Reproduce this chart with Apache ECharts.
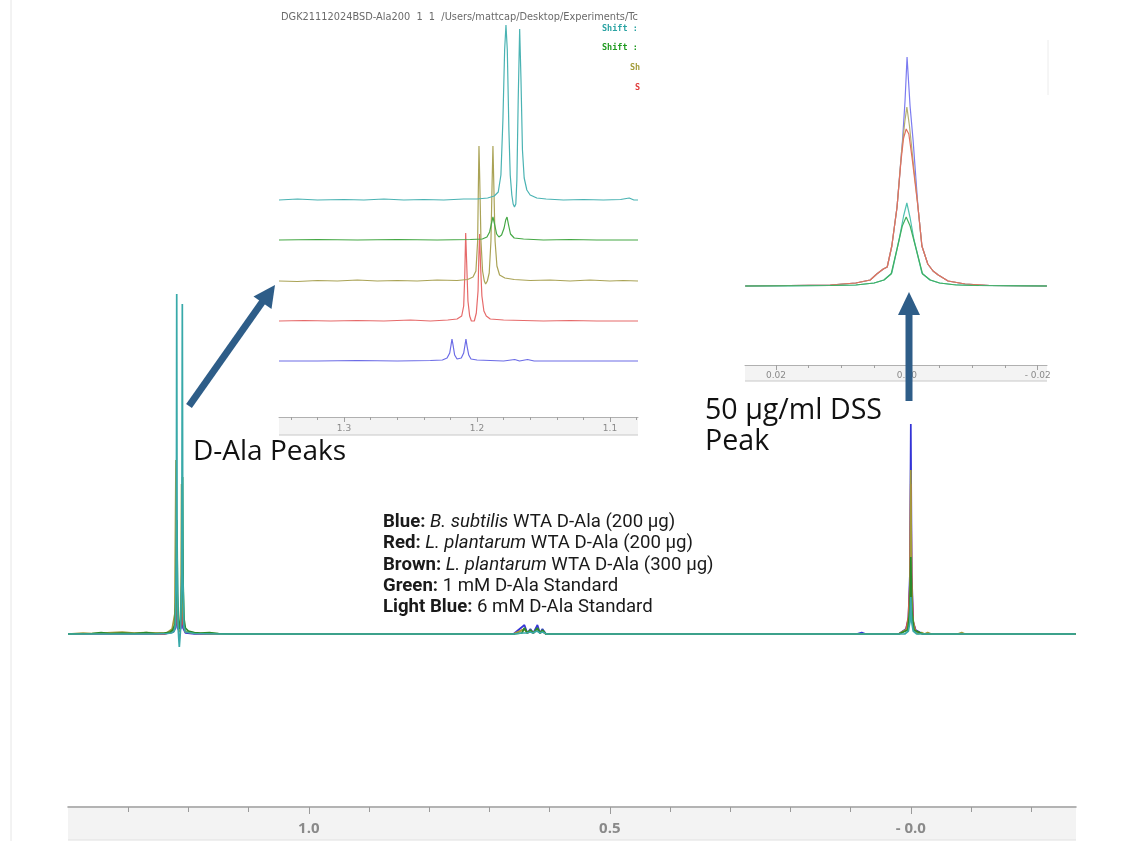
<!DOCTYPE html>
<html>
<head>
<meta charset="utf-8">
<script src="https://cdn.jsdelivr.net/npm/echarts@6/dist/echarts.min.js"></script>
<style>
html,body{margin:0;padding:0;background:#fff;}
#chart{width:1126px;height:841px;}
</style>
</head>
<body>
<div id="chart"></div>
<script>
// ---------------- DATA ----------------
// Main spectrum axis (ppm, reversed)
const mainTickValues = [1.0, 0.5, 0.0];
const mainTickLabels = ['1.0', '0.5', '- 0.0'];
const mainMinorTicks = [1.3, 1.2, 1.1, 1.0, 0.9, 0.8, 0.7, 0.6, 0.5, 0.4, 0.3, 0.2, 0.1, 0.0, -0.1, -0.2];

// D-Ala inset axis
const dalaTickValues = [1.3, 1.2, 1.1];
const dalaTickLabels = ['1.3', '1.2', '1.1'];
const dalaMinorTicks = [1.34, 1.32, 1.30, 1.28, 1.26, 1.24, 1.22, 1.20, 1.18, 1.16, 1.14, 1.12, 1.10, 1.08];

// DSS inset axis
const dssTickValues = [0.02, 0.0, -0.02];
const dssTickLabels = ['0.02', '0.00', '- 0.02'];
const dssMinorTicks = [0.02, 0.015, 0.01, 0.005, 0.0, -0.005, -0.01, -0.015, -0.02];

const seriesNames = ['Blue', 'Red', 'Brown', 'Green', 'Light Blue'];

// Legend text
const legendLabels = ['Blue:', 'Red:', 'Brown:', 'Green:', 'Light Blue:'];
const legendItalic = ['B. subtilis', 'L. plantarum', 'L. plantarum', '', ''];
const legendRest = ['WTA D-Ala (200 µg)', 'WTA D-Ala (200 µg)', 'WTA D-Ala (300 µg)', '1 mM D-Ala Standard', '6 mM D-Ala Standard'];

// Main spectrum, [ppm, intensity]
const mainBlue = [[1.400,0],[1.24,0],[1.225,2],[1.2215,6],[1.2194,25],[1.218,6],[1.2151,3],[1.2125,6],[1.2101,24],[1.209,6],[1.205,1],[1.19,0],
  [0.66,0],[0.6418,9],[0.637,1],[0.6319,5],[0.627,1],[0.6202,9],[0.616,1],[0.6119,5],[0.606,0],
  [0.09,0],[0.0816,1.5],[0.075,0],[0.02,0],[0.008,5],[0.004,15],[0.0015,60],[0.0,210],[-0.0015,60],[-0.004,12],[-0.008,4],[-0.02,0],[-0.274,0]];
const mainRed = [[1.400,0],[1.30,0.5],[1.24,0],[1.226,2],[1.2215,8],[1.2194,90],[1.218,10],[1.2151,2],[1.2125,8],[1.2101,85],[1.209,10],[1.205,2],[1.19,0.5],[1.15,0],
  [0.66,0],[0.6418,5],[0.637,1],[0.6319,3],[0.627,1],[0.6202,5],[0.616,1],[0.6119,3],[0.606,0],
  [0.02,0],[0.008,4],[0.004,17],[0.0015,50],[0.0,150],[-0.0015,50],[-0.004,12],[-0.008,3],[-0.02,0],[-0.274,0]];
const mainBrown = [[1.400,0],[1.375,1],[1.36,0.5],[1.31,2],[1.29,1],[1.27,1.5],[1.25,1],[1.236,1],[1.227,5],[1.2225,20],[1.2206,174],[1.2190,30],[1.2165,8],[1.2151,2],[1.2135,10],[1.2122,35],[1.2113,150],[1.2100,35],[1.2075,8],[1.205,3],[1.19,1],[1.17,0.5],[1.14,0],
  [0.66,0],[0.6418,5],[0.637,1],[0.6319,4],[0.627,1],[0.6202,5],[0.616,1],[0.6119,3],[0.606,0],
  [0.02,0],[0.006,5],[0.0025,20],[0.001,60],[0.0,164],[-0.001,60],[-0.0025,20],[-0.006,5],[-0.012,0],[-0.018,1.5],[-0.023,0],[-0.028,1.5],[-0.034,0],[-0.078,0],[-0.0845,1.5],[-0.09,0],[-0.274,0]];
const mainGreen = [[1.400,0],[1.36,0.5],[1.345,1.5],[1.33,0.5],[1.31,1],[1.29,0.5],[1.27,1.5],[1.255,0.5],[1.24,1],[1.23,2],[1.226,4],[1.2222,10],[1.2203,40],[1.2190,114],[1.2181,40],[1.2163,12],[1.2151,5],[1.2128,15],[1.2108,50],[1.2097,157],[1.2088,50],[1.2072,15],[1.205,6],[1.20,3],[1.19,1.5],[1.18,1],[1.165,1.5],[1.15,0.5],[1.13,0],
  [0.66,0],[0.646,1],[0.6418,6],[0.637,1],[0.6319,4],[0.627,1],[0.6202,6],[0.616,1],[0.6119,4],[0.606,0],
  [0.02,0],[0.005,4],[0.0015,25],[0.0,77],[-0.0015,25],[-0.005,4],[-0.02,0],[-0.274,0]];
const mainLightBlue = [[1.400,0],[1.26,0],[1.235,0.5],[1.228,1],[1.2235,3],[1.2215,10],[1.2200,80],[1.2194,340],[1.2188,80],[1.2170,5],[1.2151,-13],[1.2130,5],[1.2110,60],[1.2101,330],[1.2093,60],[1.2075,8],[1.205,2],[1.19,0.5],[1.15,0],
  [0.66,0],[0.645,1],[0.642,3],[0.638,1],[0.632,2],[0.628,1],[0.621,3],[0.616,1],[0.612,2],[0.605,0],
  [0.01,0],[0.004,3],[0.0015,12],[0.0,37],[-0.0015,12],[-0.004,3],[-0.01,0],[-0.274,0]];

// D-Ala inset (stacked traces), [ppm, intensity above own baseline]
const dalaLightBlue = [[1.3489,0],[1.335,1],[1.32,0],[1.30,0.5],[1.285,0],[1.27,1],[1.255,0],[1.24,0.5],[1.225,0],[1.21,1],[1.20,1],[1.192,2],[1.187,4],[1.184,8],[1.182,25],[1.1805,80],[1.1792,150],[1.1782,175],[1.1772,150],[1.176,70],[1.175,25],[1.1738,5],[1.1728,-4],[1.1718,-7],[1.1708,-4],[1.170,20],[1.169,100],[1.1679,171],[1.1669,120],[1.1658,50],[1.1645,22],[1.1625,10],[1.160,5],[1.155,2],[1.148,1],[1.135,0],[1.12,0.5],[1.105,0],[1.092,0.5],[1.0855,2],[1.082,0],[1.0789,0]];
const dalaGreen = [[1.3489,0],[1.32,0.5],[1.29,0],[1.26,0.5],[1.23,0],[1.205,0.5],[1.196,1],[1.1925,3],[1.1905,8],[1.1892,16],[1.188,23],[1.1868,16],[1.1852,6],[1.1835,3],[1.1815,5],[1.1796,12],[1.1784,20],[1.1774,23],[1.1764,16],[1.1748,6],[1.172,2],[1.165,1],[1.15,0],[1.13,0.5],[1.11,0],[1.0789,0]];
const dalaBrown = [[1.3489,0],[1.335,-0.5],[1.32,0.5],[1.305,0],[1.29,1],[1.275,0],[1.26,0.5],[1.245,0],[1.23,1],[1.215,0.5],[1.207,1.5],[1.203,4],[1.2008,10],[1.1995,40],[1.199,90],[1.1985,135],[1.1979,100],[1.197,40],[1.1958,10],[1.1945,0],[1.1935,-3],[1.1922,0],[1.1908,8],[1.1895,40],[1.1886,100],[1.188,135],[1.1874,100],[1.1864,40],[1.185,15],[1.183,6],[1.179,3],[1.172,1.5],[1.16,0.5],[1.145,1],[1.13,0],[1.115,1],[1.10,0],[1.09,0.5],[1.0789,0]];
const dalaRed = [[1.3489,0],[1.33,0.5],[1.31,0],[1.29,0.5],[1.27,0],[1.25,1],[1.235,0],[1.222,1],[1.215,2],[1.2115,5],[1.21,15],[1.2092,45],[1.2085,88],[1.2078,60],[1.2068,20],[1.2055,5],[1.2042,0],[1.2032,-2],[1.202,0],[1.2005,8],[1.1992,30],[1.1986,65],[1.198,87],[1.1973,55],[1.1963,25],[1.1948,10],[1.193,5],[1.19,2],[1.18,1],[1.165,0.5],[1.15,0],[1.13,0.5],[1.11,0],[1.0789,0]];
const dalaBlue = [[1.3489,0],[1.32,0],[1.29,0.5],[1.26,0],[1.235,0.5],[1.226,1],[1.2225,3],[1.2205,8],[1.2195,16],[1.2188,22],[1.218,16],[1.2168,6],[1.215,2],[1.2135,1],[1.2118,3],[1.21,8],[1.209,16],[1.2083,22],[1.2075,15],[1.2062,6],[1.2045,2],[1.20,1],[1.19,0.5],[1.18,0],[1.1716,1.5],[1.168,0],[1.162,1.5],[1.157,0],[1.13,0],[1.0789,0]];

// DSS inset (overlaid traces), [ppm, intensity]
const dssBlue = [[0.0247,0],[0.0179,0.5],[0.0117,1],[0.0078,3],[0.0056,6],[0.0046,12],[0.0036,17],[0.0030,19],[0.0023,40],[0.0015,79],[0.00066,146],[0.00028,185],[-0.00003,229],[-0.00049,180],[-0.00095,146],[-0.0017,79],[-0.0023,40],[-0.0032,22],[-0.0040,15],[-0.0048,11],[-0.0063,5],[-0.0089,2],[-0.0127,0.5],[-0.0214,0]];
const dssRed = [[0.0247,0],[0.0179,0.5],[0.0117,1],[0.0078,3],[0.0056,6],[0.0046,12],[0.0036,17],[0.0030,19],[0.0023,40],[0.0015,79],[0.0009,125],[0.0005,148],[0.0001,157],[-0.0003,152],[-0.0008,128],[-0.0017,79],[-0.0023,40],[-0.0032,22],[-0.0040,15],[-0.0048,11],[-0.0063,5],[-0.0089,2],[-0.0127,0.5],[-0.0214,0]];
const dssBrown = [[0.0247,0],[0.0179,0.5],[0.0117,1],[0.0078,3],[0.0056,6],[0.0046,12],[0.0036,17],[0.0030,19],[0.0023,40],[0.0015,79],[0.0008,135],[0.0003,165],[0.0,179],[-0.0004,160],[-0.00095,125],[-0.0017,79],[-0.0023,40],[-0.0032,22],[-0.0040,15],[-0.0048,11],[-0.0063,5],[-0.0089,2],[-0.0127,0.5],[-0.0214,0]];
const dssGreen = [[0.0247,0],[0.0117,0.5],[0.0078,1],[0.0050,3],[0.0035,6],[0.0024,12],[0.0014,40],[0.0007,60],[0.0001,69],[-0.0005,60],[-0.0013,40],[-0.0024,12],[-0.0036,6],[-0.0050,3],[-0.0075,1],[-0.011,0.5],[-0.0214,0]];
const dssLightBlue = [[0.0247,0],[0.0179,0],[0.0117,0.5],[0.0078,1],[0.0050,3],[0.0035,6],[0.0023,13],[0.0012,46],[0.0005,70],[0.0,83],[-0.0005,68],[-0.0011,46],[-0.0023,13],[-0.0035,6],[-0.0050,3],[-0.0070,1.5],[-0.0100,0.5],[-0.0214,0]];

// ---------------- STYLE / LAYOUT ----------------
const mainColors  = ['#3434d6', '#d84848', '#a29a3c', '#2a8a2a', '#38a9a9'];
const dalaColors  = ['#6c6ce6', '#e66a6a', '#aaa356', '#45a845', '#4ab3b3'];
const dssColors   = ['#7b7bf0', '#e07060', '#b5b070', '#40b060', '#50c0b0'];

const chart = echarts.init(document.getElementById('chart'), null, {renderer: 'canvas'});

function labelFor(vals, labels) {
  return function (v) {
    for (let i = 0; i < vals.length; i++) if (Math.abs(v - vals[i]) < 1e-9) return labels[i];
    return '';
  };
}

const grids = [
  {left: 68, top: 100, width: 1008, height: 707},   // 0 main
  {left: 279, top: 0, width: 359, height: 417},     // 1 D-Ala inset axis
  {left: 279, top: 0, width: 359, height: 200},     // 2 light blue trace
  {left: 279, top: 40, width: 359, height: 200},    // 3 green trace
  {left: 279, top: 81, width: 359, height: 200},    // 4 brown trace
  {left: 279, top: 121, width: 359, height: 200},   // 5 red trace
  {left: 279, top: 161, width: 359, height: 200},   // 6 blue trace
  {left: 745, top: 40, width: 302, height: 325},    // 7 DSS inset axis
  {left: 745, top: 46, width: 302, height: 240}     // 8 DSS traces
];

const MAIN_RANGE = [-0.2744, 1.400];
const DALA_RANGE = [1.0789, 1.3489];
const DSS_RANGE = [-0.02142, 0.02474];

function hiddenX(gi, range) {
  return {gridIndex: gi, type: 'value', position: 'bottom', inverse: true, min: range[0], max: range[1], show: false};
}
function axisPair(gi, range, minor, major, labels, o) {
  return [
    {gridIndex: gi, type: 'value', position: 'bottom', inverse: true, min: range[0], max: range[1], z: 5,
     axisLine: {show: true, onZero: false, lineStyle: {color: o.lineColor, width: o.lineWidth}},
     axisTick: {show: true, customValues: minor, length: o.minorLen, lineStyle: {color: o.tickColor, width: 1}},
     axisLabel: {show: false}, splitLine: {show: false}},
    {gridIndex: gi, type: 'value', position: 'bottom', offset: 0, inverse: true, min: range[0], max: range[1], z: 5,
     axisLine: {show: false, onZero: false},
     axisTick: {show: true, customValues: major, length: o.majorLen, lineStyle: {color: o.tickColor, width: 1}},
     axisLabel: {show: true, customValues: major, formatter: labelFor(major, labels), color: o.labelColor,
       fontSize: o.fontSize, fontWeight: o.fontWeight, fontFamily: o.fontFamily, margin: o.margin},
     splitLine: {show: false}}
  ];
}

const xAxes = [];
// main: indexes 0,1
xAxes.push(...axisPair(0, MAIN_RANGE, mainMinorTicks, mainTickValues, mainTickLabels,
  {lineColor: '#9a9a9a', lineWidth: 1.5, tickColor: '#9a9a9a', minorLen: 5, majorLen: 7, labelColor: '#8a8a8a',
   fontSize: 15, fontWeight: 'bold', fontFamily: 'Open Sans', margin: 14}));
// D-Ala inset axis: 2,3
xAxes.push(...axisPair(1, DALA_RANGE, dalaMinorTicks, dalaTickValues, dalaTickLabels,
  {lineColor: '#b0b0b0', lineWidth: 1, tickColor: '#a0a0a0', minorLen: 3, majorLen: 5, labelColor: '#8a8a8a',
   fontSize: 9, fontWeight: 'normal', fontFamily: 'DejaVu Sans', margin: 7}));
// D-Ala traces: 4..8
for (let g = 2; g <= 6; g++) xAxes.push(hiddenX(g, DALA_RANGE));
// DSS inset axis: 9,10
xAxes.push(...axisPair(7, DSS_RANGE, dssMinorTicks, dssTickValues, dssTickLabels,
  {lineColor: '#b0b0b0', lineWidth: 1, tickColor: '#a0a0a0', minorLen: 3, majorLen: 5, labelColor: '#8a8a8a',
   fontSize: 9, fontWeight: 'normal', fontFamily: 'DejaVu Sans', margin: 6}));
// DSS traces: 11
xAxes.push(hiddenX(8, DSS_RANGE));

const yAxes = [
  {gridIndex: 0, type: 'value', min: -173, max: 534, show: false},
  {gridIndex: 1, type: 'value', min: 0, max: 100, show: false},
  {gridIndex: 2, type: 'value', min: 0, max: 200, show: false},
  {gridIndex: 3, type: 'value', min: 0, max: 200, show: false},
  {gridIndex: 4, type: 'value', min: 0, max: 200, show: false},
  {gridIndex: 5, type: 'value', min: 0, max: 200, show: false},
  {gridIndex: 6, type: 'value', min: 0, max: 200, show: false},
  {gridIndex: 7, type: 'value', min: 0, max: 100, show: false},
  {gridIndex: 8, type: 'value', min: 0, max: 240, show: false}
];

const mainData = [mainBlue, mainRed, mainBrown, mainGreen, mainLightBlue];
const dalaData = [dalaBlue, dalaRed, dalaBrown, dalaGreen, dalaLightBlue];
const dssData = [dssBlue, dssRed, dssBrown, dssGreen, dssLightBlue];
// stacked-trace grid per D-Ala series: blue->6, red->5, brown->4, green->3, light blue->2
const dalaGridOf = [6, 5, 4, 3, 2];
const dalaXAxisOf = [8, 7, 6, 5, 4];

const series = [];
mainData.forEach((d, i) => series.push({
  name: seriesNames[i], type: 'line', xAxisIndex: 0, yAxisIndex: 0, data: d, showSymbol: false,
  lineStyle: {color: mainColors[i], width: 1.7}, clip: false, silent: true
}));
dalaData.forEach((d, i) => series.push({
  name: seriesNames[i], type: 'line', xAxisIndex: dalaXAxisOf[i], yAxisIndex: dalaGridOf[i], data: d, showSymbol: false,
  lineStyle: {color: dalaColors[i], width: 1.2}, clip: false, silent: true
}));
const dssOrder = [0, 2, 1, 4, 3];
dssOrder.forEach(i => series.push({
  name: seriesNames[i], type: 'line', xAxisIndex: 11, yAxisIndex: 8, data: dssData[i], showSymbol: false,
  lineStyle: {color: dssColors[i], width: 1.2}, clip: false, silent: true
}));

// legend rich text
const legendText = legendLabels.map((l, i) =>
  '{b|' + l + '} ' + (legendItalic[i] ? '{i|' + legendItalic[i] + '} ' : '') + legendRest[i]).join('\n');

const arrowColor = '#2e5d88';

const graphic = [
  // faint page edge line
  {type: 'line', shape: {x1: 11, y1: 0, x2: 11, y2: 841}, style: {stroke: '#e6e6e6', lineWidth: 1}, z: 0, silent: true},
  // axis bands
  {type: 'rect', shape: {x: 68, y: 808, width: 1008, height: 32}, style: {fill: '#f3f3f3'}, z: 0, silent: true},
  {type: 'line', shape: {x1: 68, y1: 840, x2: 1076, y2: 840}, style: {stroke: '#e0e0e0', lineWidth: 1}, z: 0, silent: true},
  {type: 'rect', shape: {x: 279, y: 417, width: 359, height: 18}, style: {fill: '#f3f3f3'}, z: 0, silent: true},
  {type: 'line', shape: {x1: 279, y1: 435, x2: 638, y2: 435}, style: {stroke: '#c8c8c8', lineWidth: 1}, z: 0, silent: true},
  {type: 'rect', shape: {x: 745, y: 365, width: 302, height: 16}, style: {fill: '#f3f3f3'}, z: 0, silent: true},
  {type: 'line', shape: {x1: 745, y1: 381, x2: 1047, y2: 381}, style: {stroke: '#c8c8c8', lineWidth: 1}, z: 0, silent: true},
  {type: 'line', shape: {x1: 1048, y1: 40, x2: 1048, y2: 95}, style: {stroke: '#ececec', lineWidth: 1}, z: 0, silent: true},
  // inset header
  {type: 'text', x: 281, y: 17, z: 10, silent: true,
   style: {text: 'DGK21112024BSD-Ala200  1  1  /Users/mattcap/Desktop/Experiments/Tc', fill: '#6a6a6a',
     fontSize: 9.8, fontFamily: 'DejaVu Sans', textVerticalAlign: 'middle', verticalAlign: 'middle'}},
  {type: 'text', x: 602, y: 29, z: 10, silent: true,
   style: {text: 'Shift :', fill: '#2aa3a3', fontSize: 8.5, fontWeight: 'bold', fontFamily: 'DejaVu Sans Mono', textVerticalAlign: 'middle', verticalAlign: 'middle'}},
  {type: 'text', x: 602, y: 48, z: 10, silent: true,
   style: {text: 'Shift :', fill: '#1f9a1f', fontSize: 8.5, fontWeight: 'bold', fontFamily: 'DejaVu Sans Mono', textVerticalAlign: 'middle', verticalAlign: 'middle'}},
  {type: 'text', x: 630, y: 68, z: 10, silent: true,
   style: {text: 'Sh', fill: '#a39c3a', fontSize: 8.5, fontWeight: 'bold', fontFamily: 'DejaVu Sans Mono', textVerticalAlign: 'middle', verticalAlign: 'middle'}},
  {type: 'text', x: 635, y: 88, z: 10, silent: true,
   style: {text: 'S', fill: '#e03c3c', fontSize: 8.5, fontWeight: 'bold', fontFamily: 'DejaVu Sans Mono', textVerticalAlign: 'middle', verticalAlign: 'middle'}},
  // arrows
  {type: 'line', shape: {x1: 189, y1: 406, x2: 263, y2: 301}, style: {stroke: arrowColor, lineWidth: 7, lineCap: 'butt'}, z: 20, silent: true},
  {type: 'polygon', shape: {points: [[275, 285], [271.5, 309], [253.5, 296.5]]}, style: {fill: arrowColor}, z: 20, silent: true},
  {type: 'line', shape: {x1: 909, y1: 401, x2: 909, y2: 312}, style: {stroke: arrowColor, lineWidth: 7, lineCap: 'butt'}, z: 20, silent: true},
  {type: 'polygon', shape: {points: [[909, 292], [920, 315], [898, 315]]}, style: {fill: arrowColor}, z: 20, silent: true},
  // annotations
  {type: 'text', x: 193, y: 452, z: 20, silent: true,
   style: {text: 'D-Ala Peaks', fill: '#111', fontSize: 28, fontFamily: 'Open Sans', textVerticalAlign: 'middle', verticalAlign: 'middle'}},
  {type: 'text', x: 705, y: 426, z: 20, silent: true,
   style: {text: '50 µg/ml DSS\nPeak', fill: '#111', fontSize: 28.6, lineHeight: 31, fontFamily: 'Open Sans', textVerticalAlign: 'middle', verticalAlign: 'middle'}},
  // legend
  {type: 'text', x: 383, y: 565, z: 20, silent: true,
   style: {text: legendText, fill: '#1a1a1a', fontSize: 18.6, fontFamily: 'Roboto', lineHeight: 21.3,
     textVerticalAlign: 'middle', verticalAlign: 'middle',
     rich: {
       b: {fontWeight: 'bold', fontSize: 18.6, fontFamily: 'Roboto', lineHeight: 21.3, fill: '#1a1a1a'},
       i: {fontStyle: 'italic', fontSize: 18.6, fontFamily: 'Roboto', lineHeight: 21.3, fill: '#1a1a1a'}
     }}}
];

chart.setOption({
  animation: false,
  backgroundColor: '#ffffff',
  grid: grids,
  xAxis: xAxes,
  yAxis: yAxes,
  series: series,
  graphic: graphic
});
</script>
</body>
</html>
